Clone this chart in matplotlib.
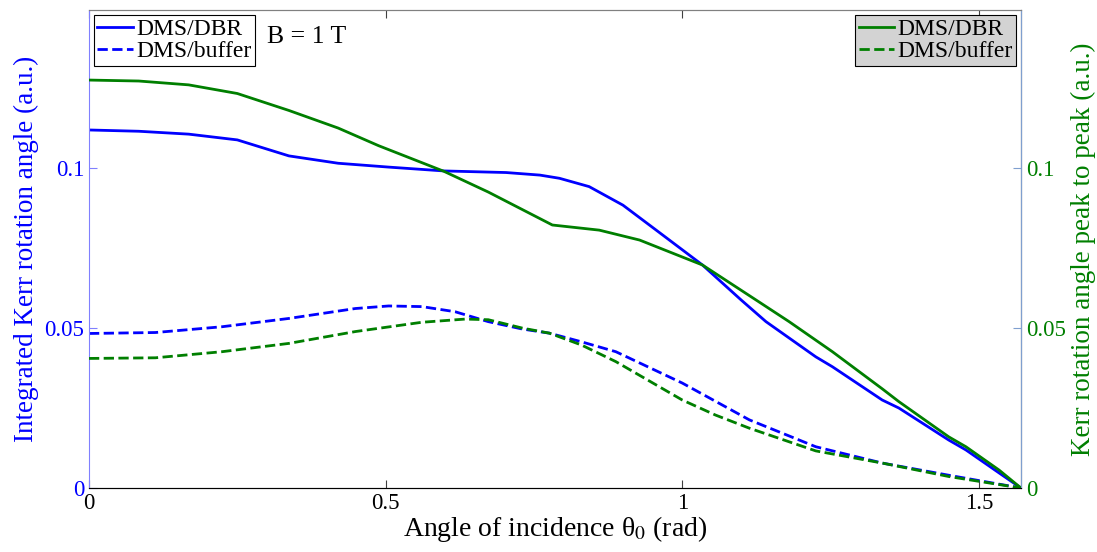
import numpy as np
import matplotlib
matplotlib.use('Agg')
import matplotlib.pyplot as plt

plt.rcParams['font.family'] = ['Liberation Serif', 'DejaVu Serif']
plt.rcParams['mathtext.fontset'] = 'stix'

# Integrated Kerr rotation angle (left axis)
th_dbr_l = [0.0, 0.084, 0.168, 0.25, 0.337, 0.42, 0.505, 0.598, 0.703, 0.76, 0.793, 0.843, 0.9,
            0.956, 1.034, 1.099, 1.141, 1.225, 1.253, 1.337, 1.365, 1.449, 1.478, 1.534, np.pi / 2]
dbr_l = [0.1119, 0.1115, 0.1106, 0.1088, 0.1038, 0.1015, 0.1003, 0.0991, 0.0986, 0.0978, 0.0968,
         0.0942, 0.0884, 0.0806, 0.0697, 0.0588, 0.052, 0.041, 0.0379, 0.0275, 0.025, 0.015,
         0.0119, 0.0047, 0.0]

th_buf_l = [0.0, 0.112, 0.224, 0.337, 0.449, 0.505, 0.561, 0.617, 0.673, 0.73, 0.776,
            0.83, 0.888, 1.0, 1.113, 1.225, 1.337, 1.449, np.pi / 2]
buf_l = [0.0483, 0.0486, 0.0504, 0.053, 0.0561, 0.0569, 0.0567, 0.0551, 0.052, 0.0497, 0.0484,
         0.0457, 0.0426, 0.0328, 0.0213, 0.0129, 0.0078, 0.004, 0.0]

# Kerr rotation angle peak to peak (right axis)
th_dbr_r = [0.0, 0.084, 0.168, 0.25, 0.337, 0.42, 0.488, 0.598, 0.673, 0.781, 0.86, 0.928,
            1.034, 1.124, 1.18, 1.253, 1.337, 1.365, 1.449, 1.478, 1.534, np.pi / 2]
dbr_r = [0.1275, 0.1272, 0.126, 0.1233, 0.118, 0.1125, 0.107, 0.099, 0.0925, 0.0822, 0.0806,
         0.0775, 0.0697, 0.0588, 0.052, 0.0426, 0.031, 0.027, 0.016, 0.0129, 0.0056, 0.0]

th_buf_r = [0.0, 0.112, 0.224, 0.337, 0.449, 0.561, 0.634, 0.673, 0.73, 0.776, 0.83,
            0.888, 1.0, 1.056, 1.113, 1.225, 1.337, 1.449, np.pi / 2]
buf_r = [0.0405, 0.0407, 0.0426, 0.0452, 0.0489, 0.0518, 0.0528, 0.0526, 0.05, 0.0484, 0.0447,
         0.0395, 0.0275, 0.0228, 0.0187, 0.0116, 0.0078, 0.0036, 0.0]

blue = '#0000ff'
green = '#007f00'

fig = plt.figure(figsize=(10.97, 5.52), dpi=100)
ax1 = fig.add_axes([0.0811, 0.1159, 0.8496, 0.866])
ax2 = ax1.twinx()

l1, = ax1.plot(th_dbr_l, dbr_l, '-', color=blue, lw=2, label='DMS/DBR')
l2, = ax1.plot(th_buf_l, buf_l, '--', color=blue, lw=2, label='DMS/buffer')
g1, = ax2.plot(th_dbr_r, dbr_r, '-', color=green, lw=2, label='DMS/DBR')
g2, = ax2.plot(th_buf_r, buf_r, '--', color=green, lw=2, label='DMS/buffer')

for ax in (ax1, ax2):
    ax.set_xlim(0, np.pi / 2)
    ax.set_ylim(0, 0.1494)
    ax.set_yticks([0, 0.05, 0.1])
    ax.set_yticklabels(['0', '0.05', '0.1'])

ax1.set_xticks([0, 0.5, 1, 1.5])
ax1.set_xticklabels(['0', '0.5', '1', '1.5'])
ax1.tick_params(axis='x', direction='in', top=True, labelsize=16.5, colors='#404040',
                labelcolor='black', length=6)
ax1.tick_params(axis='y', direction='in', labelsize=16.5, colors='#8080ff',
                labelcolor=blue, length=6)
ax2.tick_params(axis='y', direction='in', labelsize=16.5, colors='#7f9fcf',
                labelcolor=green, length=6)

ax1.spines['left'].set_color('#8080ff')
ax1.spines['bottom'].set_color('#404040')
ax1.spines['top'].set_color('#808080')
ax2.spines['right'].set_color('#7f9fcf')
ax2.spines['left'].set_visible(False)
ax2.spines['top'].set_color('#808080')

ax1.set_xlabel('Angle of incidence θ$_0$ (rad)', fontsize=20, labelpad=0)
ax1.set_ylabel('Integrated Kerr rotation angle (a.u.)', fontsize=19.5, color=blue, labelpad=4)
ax2.set_ylabel('Kerr rotation angle peak to peak (a.u.)', fontsize=19.5, color=green, labelpad=4)

leg_kw = dict(fontsize=17, frameon=True, fancybox=False, edgecolor='black', framealpha=1,
              handlelength=1.5, handletextpad=0.15, borderpad=0.15, labelspacing=0.05,
              borderaxespad=0.2)
leg1 = ax1.legend(handles=[l1, l2], loc='upper left', **leg_kw)
leg1.get_frame().set_linewidth(0.8)
leg2 = ax2.legend(handles=[g1, g2], loc='upper right', facecolor='#d3d3d3', **leg_kw)
leg2.get_frame().set_linewidth(0.8)

ax1.text(0.30, 0.141, 'B = 1 T', fontsize=18.5, va='center')

fig.savefig('out.png', dpi=100)
